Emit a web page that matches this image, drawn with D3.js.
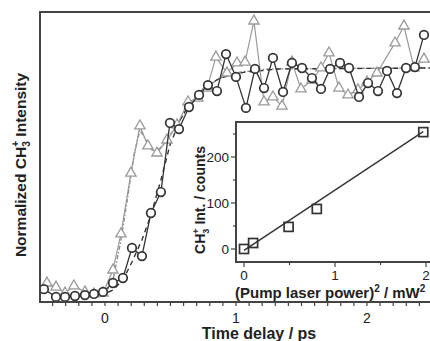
<!DOCTYPE html>
<html>
<head>
<meta charset="utf-8">
<script src="https://cdn.jsdelivr.net/npm/d3@7"></script>
<style>
  body { margin: 0; background: #fff; }
  svg { display: block; font-family: 'Liberation Sans', Arial, sans-serif; }
</style>
</head>
<body>
<div id="chart"></div>
<script>
// main panel: normalized CH3+ signal vs time delay (ps)
const circleT = [-0.466, -0.374, -0.305, -0.229, -0.153, -0.084, -0.015, 0.061, 0.137, 0.206, 0.282, 0.351, 0.427, 0.496, 0.565, 0.641, 0.718, 0.786, 0.855, 0.924, 1.0, 1.076, 1.145, 1.214, 1.282, 1.359, 1.427, 1.504, 1.580, 1.649, 1.718, 1.794, 1.863, 1.939, 2.008, 2.084, 2.153, 2.229, 2.298, 2.366, 2.435]
const circleV = [0.030, -0.004, -0.004, 0.0, 0.004, 0.009, 0.018, 0.057, 0.079, 0.211, 0.175, 0.364, 0.456, 0.759, 0.732, 0.829, 0.882, 0.925, 0.899, 1.061, 0.961, 0.825, 0.996, 0.912, 1.044, 0.895, 1.022, 1.0, 0.956, 0.908, 0.996, 1.022, 1.0, 0.873, 0.934, 0.899, 0.987, 0.890, 1.0, 1.004, 1.145]

const triT = [-0.443, -0.374, -0.305, -0.237, -0.153, -0.084, -0.015, 0.061, 0.122, 0.198, 0.267, 0.328, 0.397, 0.473, 0.550, 0.634, 0.710, 0.779, 0.847, 0.931, 1.008, 1.069, 1.137, 1.214, 1.282, 1.351, 1.427, 1.496, 1.580, 1.649, 1.710, 1.786, 1.855, 1.931, 2.0, 2.076, 2.214, 2.282, 2.359, 2.435]
const triV = [0.057, 0.039, 0.013, 0.044, 0.018, 0.009, 0.013, 0.114, 0.272, 0.539, 0.746, 0.658, 0.627, 0.684, 0.750, 0.851, 0.868, 0.912, 1.048, 0.978, 1.022, 1.026, 1.206, 0.851, 0.873, 0.833, 1.026, 0.908, 0.947, 1.0, 1.066, 0.912, 0.882, 0.904, 0.939, 0.978, 1.110, 1.184, 1.0, 1.039]

// fitted curves
const triFitT = [-0.076, 0.0, 0.061, 0.122, 0.176, 0.221, 0.267, 0.313, 0.359, 0.405, 0.458, 0.534, 0.649, 0.763, 0.878, 1.031, 1.260, 2.481]
const triFitV = [0.0, 0.009, 0.070, 0.246, 0.443, 0.618, 0.728, 0.684, 0.640, 0.640, 0.671, 0.737, 0.838, 0.912, 0.956, 0.982, 0.996, 1.0]
const circFitT = [-0.038, 0.061, 0.137, 0.206, 0.282, 0.351, 0.427, 0.496, 0.573, 0.649, 0.763, 0.878, 1.069, 1.336, 2.481]
const circFitV = [0.0, 0.026, 0.070, 0.149, 0.246, 0.355, 0.509, 0.662, 0.772, 0.846, 0.917, 0.956, 0.982, 0.996, 1.0]

const mainTicks = [0, 1, 2]

// inset: CH3+ counts vs (pump power)^2
const powerSq = [0.0, 0.10, 0.49, 0.80, 1.97]
const counts = [0, 13, 48, 87, 254]
const lineX = [0.0, 1.97]
const lineY = [-3, 255]
const insetXTicks = [0, 1, 2]
const insetYTicks = [0, 100, 200]

const W = 430, H = 341
const dark = '#333', gray = '#9a9a9a'

const svg = d3.select('#chart').append('svg')
    .attr('width', W).attr('height', H)

const x = d3.scaleLinear().domain([-0.496, 2.481]).range([40, 430])
const y = d3.scaleLinear().domain([-0.0263, 1.2456]).range([302, 12])

svg.append('clipPath').attr('id', 'clip')
    .append('rect').attr('x', 40).attr('y', 12).attr('width', 390).attr('height', 290)

const plot = svg.append('g').attr('clip-path', 'url(#clip)')

const line = d3.line().x(d => x(d[0])).y(d => y(d[1]))

// fits
plot.append('path')
    .attr('d', line(d3.zip(triFitT, triFitV)))
    .attr('fill', 'none').attr('stroke', '#888').attr('stroke-width', 1.4)
    .attr('stroke-dasharray', '4,2,1.5,2')
plot.append('path')
    .attr('d', line(d3.zip(circFitT, circFitV)))
    .attr('fill', 'none').attr('stroke', dark).attr('stroke-width', 1.4)
    .attr('stroke-dasharray', '5,4')

// triangles
const tri = d3.zip(triT, triV)
plot.append('path')
    .attr('d', line(tri))
    .attr('fill', 'none').attr('stroke', gray).attr('stroke-width', 1.2)
plot.selectAll('.tri').data(tri).enter().append('path')
    .attr('class', 'tri')
    .attr('d', d3.symbol().type(d3.symbolTriangle).size(46))
    .attr('transform', d => `translate(${x(d[0])},${y(d[1])})`)
    .attr('fill', '#fff').attr('stroke', gray).attr('stroke-width', 1.3)

// circles
const circ = d3.zip(circleT, circleV)
plot.append('path')
    .attr('d', line(circ))
    .attr('fill', 'none').attr('stroke', dark).attr('stroke-width', 1.3)
plot.selectAll('.circ').data(circ).enter().append('circle')
    .attr('class', 'circ')
    .attr('cx', d => x(d[0])).attr('cy', d => y(d[1])).attr('r', 4.3)
    .attr('fill', '#fff').attr('stroke', dark).attr('stroke-width', 1.7)

// frame
svg.append('path')
    .attr('d', `M430,12H40V302H430`)
    .attr('fill', 'none').attr('stroke', '#444').attr('stroke-width', 2)

// x axis ticks
const xAxis = svg.append('g').attr('transform', 'translate(0,302)')
xAxis.selectAll('.minor').data(d3.range(-4, 25).map(i => i / 10)).enter().append('line')
    .attr('x1', d => x(d)).attr('x2', d => x(d)).attr('y1', 0).attr('y2', 4)
    .attr('stroke', '#444').attr('stroke-width', 1.2)
xAxis.selectAll('.lab').data(mainTicks).enter().append('text')
    .attr('x', d => x(d)).attr('y', 21)
    .attr('text-anchor', 'middle').attr('font-size', 14).attr('fill', '#222')
    .text(d => d)

svg.append('text')
    .attr('x', 259).attr('y', 339)
    .attr('text-anchor', 'middle').attr('font-size', 16).attr('font-weight', 'bold').attr('fill', '#222')
    .text('Time delay / ps')

const yTitle = svg.append('text')
    .attr('transform', 'translate(26,165) rotate(-90)')
    .attr('text-anchor', 'middle').attr('font-size', 15.5).attr('font-weight', 'bold').attr('fill', '#222')
yTitle.append('tspan').text('Normalized CH')
yTitle.append('tspan').attr('font-size', 10).attr('dy', 4).text('3')
yTitle.append('tspan').attr('font-size', 10).attr('dy', -11).attr('dx', -5.5).text('+')
yTitle.append('tspan').attr('dy', 7).text(' Intensity')

// ---- inset ----
const ix = d3.scaleLinear().domain([-0.088, 2.044]).range([236, 430])
const iy = d3.scaleLinear().domain([-28.3, 276]).range([262, 122])

svg.append('rect')
    .attr('x', 236).attr('y', 122).attr('width', 200).attr('height', 140)
    .attr('fill', '#fff').attr('stroke', '#444').attr('stroke-width', 2)

const inset = svg.append('g')

inset.append('path')
    .attr('d', d3.line().x(d => ix(d[0])).y(d => iy(d[1]))(d3.zip(lineX, lineY)))
    .attr('stroke', dark).attr('stroke-width', 1.4).attr('fill', 'none')

inset.selectAll('.sq').data(d3.zip(powerSq, counts)).enter().append('rect')
    .attr('x', d => ix(d[0]) - 4.5).attr('y', d => iy(d[1]) - 4.5)
    .attr('width', 9).attr('height', 9)
    .attr('fill', 'none').attr('stroke', dark).attr('stroke-width', 1.7)

// inset y ticks
inset.selectAll('.iyt').data(d3.range(0, 260, 50)).enter().append('line')
    .attr('x1', 236).attr('x2', d => d % 100 === 0 ? 231 : 233)
    .attr('y1', d => iy(d)).attr('y2', d => iy(d))
    .attr('stroke', '#444').attr('stroke-width', 1.2)
inset.selectAll('.iyl').data(insetYTicks).enter().append('text')
    .attr('x', 229).attr('y', d => iy(d) + 5)
    .attr('text-anchor', 'end').attr('font-size', 13.5).attr('fill', '#222')
    .text(d => d)

// inset x ticks
inset.selectAll('.ixt').data([0, 0.5, 1, 1.5, 2]).enter().append('line')
    .attr('x1', d => ix(d)).attr('x2', d => ix(d))
    .attr('y1', 262).attr('y2', d => d % 1 === 0 ? 267 : 265)
    .attr('stroke', '#444').attr('stroke-width', 1.2)
inset.selectAll('.ixl').data(insetXTicks).enter().append('text')
    .attr('x', d => ix(d)).attr('y', 280)
    .attr('text-anchor', 'middle').attr('font-size', 13.5).attr('fill', '#222')
    .text(d => d)

const ixTitle = svg.append('text')
    .attr('x', 235).attr('y', 298)
    .attr('font-size', 15).attr('font-weight', 'bold').attr('fill', '#222')
ixTitle.append('tspan').text('(Pump laser power)')
ixTitle.append('tspan').attr('font-size', 10).attr('dy', -6).text('2')
ixTitle.append('tspan').attr('dy', 6).text(' / mW')
ixTitle.append('tspan').attr('font-size', 10).attr('dy', -6).text('2')

const iyTitle = svg.append('text')
    .attr('transform', 'translate(205,200) rotate(-90)')
    .attr('text-anchor', 'middle').attr('font-size', 14).attr('font-weight', 'bold').attr('fill', '#222')
iyTitle.append('tspan').text('CH')
iyTitle.append('tspan').attr('font-size', 9).attr('dy', 3.5).text('3')
iyTitle.append('tspan').attr('font-size', 9).attr('dy', -10).attr('dx', -5).text('+')
iyTitle.append('tspan').attr('dy', 6.5).text(' Int. / counts')
</script>
</body>
</html>
